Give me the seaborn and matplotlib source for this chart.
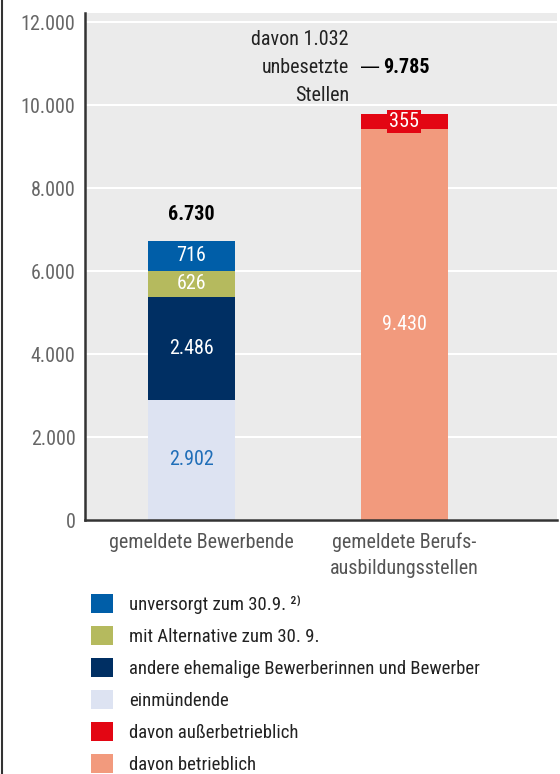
import matplotlib
matplotlib.use("Agg")
import matplotlib.pyplot as plt
import matplotlib.transforms as mtransforms
from matplotlib import font_manager as fm
from matplotlib.patches import Patch
from matplotlib.lines import Line2D
import pandas as pd
import seaborn as sns

# data
categories = ["gemeldete Bewerbende", "gemeldete Berufs-\nausbildungsstellen"]
segments = ["einmündende", "andere ehemalige Bewerberinnen und Bewerber",
            "mit Alternative zum 30. 9.", "unversorgt zum 30.9. ²⁾",
            "davon betrieblich", "davon außerbetrieblich"]
segment_category = [0, 0, 0, 0, 1, 1]
values = [2902, 2486, 626, 716, 9430, 355]
totals = [6730, 9785]
unbesetzt = 1032
legend_order = [3, 2, 1, 0, 5, 4]

colors = ["#DDE3F2", "#002F63", "#B5BA5E", "#005EA8", "#F29A7D", "#E30613"]
label_colors = ["#1F6EB8", "white", "white", "white", "white", "white"]


def de(n):
    return f"{n:,}".replace(",", ".")


# look for a narrow font, the original uses a condensed face
installed = {f.name for f in fm.fontManager.ttflist}
narrow = None
for cand in ["Liberation Sans Narrow", "Roboto Condensed", "Open Sans Condensed",
             "Noto Sans Condensed", "DejaVu Sans Condensed", "Arial Narrow"]:
    if cand in installed:
        narrow = cand
        break
if narrow is None:
    cond = [f.name for f in fm.fontManager.ttflist
            if str(f.stretch) in ("condensed", "semi-condensed", "extra-condensed", "575", "625", "700", "750", "500")]
    if cond:
        narrow = cond[0]

if narrow:
    family = [narrow, "DejaVu Sans"]
    fs, lfs = 14.5, 13.5
else:
    family = ["DejaVu Sans"]
    fs, lfs = 13, 11.5

df = pd.DataFrame({"segment": segments, "cat": [categories[i] for i in segment_category],
                   "cidx": segment_category, "value": values, "color": colors})
df["top"] = df.groupby("cidx")["value"].cumsum()
df["bottom"] = df["top"] - df["value"]

sns.set_style("white")
plt.rcParams["font.family"] = family

fig = plt.figure(figsize=(5.6, 7.74), dpi=100)
ax = fig.add_axes([0.152, 0.328, 0.843, 0.655])
ax.set_facecolor("#EBEBEB")

# stacked bars: draw cumulative tops from the top segment down
for i in reversed(range(len(df))):
    row = df.iloc[i]
    sns.barplot(x=[row["cat"]], y=[row["top"]], order=categories, color=row["color"],
                saturation=1, width=0.41, linewidth=0, ax=ax, zorder=3)

for i, row in df.iterrows():
    y = row["bottom"] + row["value"] / 2
    box = None
    if row["value"] < 500:
        box = dict(facecolor=row["color"], edgecolor="none", pad=1.5)
    ax.text(row["cidx"], y, de(row["value"]), ha="center", va="center",
            color=label_colors[i], fontsize=fs, zorder=5, bbox=box)

ax.text(0, totals[0] + 400, de(totals[0]), ha="center", va="bottom",
        fontsize=fs, fontweight="bold", color="black")
ax.text(0.902, 10916, de(totals[1]), ha="left", va="center",
        fontsize=fs, fontweight="bold", color="black")
ax.text(0.885, 10916, "—", ha="right", va="center", fontsize=fs,
        family="DejaVu Sans", color="black")
ax.text(0.74, 10916, f"davon {de(unbesetzt)}\nunbesetzte\nStellen", ha="right",
        va="center", multialignment="right", fontsize=fs, linespacing=1.6, color="#222222")

ax.set_ylim(0, 12220)
ax.set_xlim(-0.5, 1.72)
ax.set_yticks(range(0, 12001, 2000))
ax.set_yticklabels([de(v) for v in range(0, 12001, 2000)])
ax.yaxis.grid(True, color="white", lw=1.5, zorder=0)
ax.set_axisbelow(True)
ax.tick_params(axis="both", length=0, labelsize=fs, labelcolor="#666666")
ax.tick_params(axis="x", pad=9, labelcolor="#555555")
ax.tick_params(axis="y", pad=7)
for t in ax.get_xticklabels():
    t.set_linespacing(1.45)
# first category label sits a little right of its bar in the original
lbl0 = ax.get_xticklabels()[0]
lbl0.set_transform(lbl0.get_transform() + mtransforms.ScaledTranslation(0.1, 0, fig.dpi_scale_trans))
ax.set_xlabel("")
ax.set_ylabel("")
for s in ["top", "right"]:
    ax.spines[s].set_visible(False)
for s in ["left", "bottom"]:
    ax.spines[s].set_color("#333333")
    ax.spines[s].set_linewidth(1.8)
    ax.spines[s].set_zorder(6)

handles = [Patch(facecolor=colors[i], edgecolor="none", label=segments[i]) for i in legend_order]
fig.legend(handles=handles, loc="upper left", bbox_to_anchor=(0.1625, 0.2326),
           frameon=False, fontsize=lfs, handlelength=22 / (lfs * 1.39),
           handleheight=22 / (lfs * 1.39), handletextpad=0.85,
           labelspacing=12.3 / (lfs * 1.39), borderpad=0, borderaxespad=0,
           labelcolor="#222222")

fig.add_artist(Line2D([0.004, 0.004], [0, 1], transform=fig.transFigure,
                      color="#333333", lw=1.5))

fig.savefig("out.png", dpi=100)
